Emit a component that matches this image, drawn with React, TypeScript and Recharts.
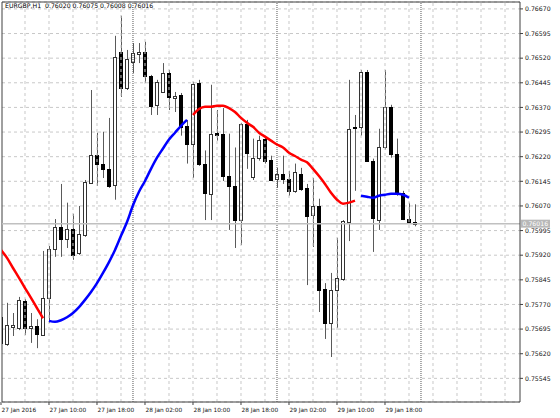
import React from 'react';
import { ComposedChart, Bar, Line, XAxis, YAxis, CartesianGrid, ReferenceLine } from 'recharts';

const SYMBOL = 'EURGBP,H1';
const BID = 0.76016;

const OPEN = [
  0.75731, 0.75650, 0.75701, 0.75698, 0.75781, 0.75698, 0.75704, 0.75677, 0.75790, 0.75939,
  0.76006, 0.75969, 0.76000, 0.75927, 0.75983, 0.76140, 0.76226, 0.76199, 0.76183, 0.76134,
  0.76539, 0.76429, 0.76509, 0.76533, 0.76539, 0.76466, 0.76378, 0.76417, 0.76475, 0.76399,
  0.76408, 0.76314, 0.76260, 0.76445, 0.76199, 0.76107, 0.76293, 0.76290, 0.76161, 0.76131,
  0.76027, 0.76320, 0.76158, 0.76217, 0.76275, 0.76211, 0.76152, 0.76167, 0.76152, 0.76116,
  0.76167, 0.76125, 0.76042, 0.76070, 0.75817, 0.75714, 0.75814, 0.75848, 0.76021, 0.76311,
  0.76311, 0.76478, 0.76208, 0.76027, 0.76248, 0.76372, 0.76229, 0.76110, 0.76030, 0.76020,
];
const HIGH = [
  0.75737, 0.75775, 0.75744, 0.75793, 0.75787, 0.75744, 0.75725, 0.75933, 0.75948, 0.76030,
  0.76137, 0.76080, 0.76046, 0.76070, 0.76149, 0.76423, 0.76293, 0.76296, 0.76338, 0.76588,
  0.76649, 0.76545, 0.76566, 0.76566, 0.76570, 0.76469, 0.76454, 0.76505, 0.76484, 0.76417,
  0.76414, 0.76332, 0.76448, 0.76454, 0.76239, 0.76439, 0.76362, 0.76368, 0.76290, 0.76248,
  0.76323, 0.76332, 0.76275, 0.76284, 0.76281, 0.76223, 0.76186, 0.76223, 0.76177, 0.76199,
  0.76186, 0.76137, 0.76155, 0.76092, 0.75835, 0.75866, 0.75973, 0.76027, 0.76454, 0.76347,
  0.76484, 0.76484, 0.76214, 0.76305, 0.76484, 0.76378, 0.76275, 0.76116, 0.76080, 0.76075,
];
const LOW = [
  0.75647, 0.75644, 0.75674, 0.75692, 0.75677, 0.75653, 0.75637, 0.75674, 0.75714, 0.75915,
  0.75915, 0.75942, 0.75906, 0.75921, 0.75976, 0.76137, 0.76131, 0.76155, 0.76125, 0.76089,
  0.76402, 0.76423, 0.76475, 0.76505, 0.76445, 0.76347, 0.76347, 0.76414, 0.76362, 0.76356,
  0.76284, 0.76199, 0.76155, 0.76192, 0.76027, 0.76027, 0.76269, 0.76146, 0.75997, 0.75942,
  0.75951, 0.76183, 0.76149, 0.76208, 0.76199, 0.76146, 0.76125, 0.76137, 0.76101, 0.76110,
  0.76116, 0.75829, 0.75945, 0.75747, 0.75665, 0.75610, 0.75698, 0.75842, 0.75963, 0.76116,
  0.76284, 0.76205, 0.75930, 0.75997, 0.76242, 0.76217, 0.76101, 0.76027, 0.76018, 0.76008,
];
const CLOSE = [
  0.75653, 0.75707, 0.75707, 0.75784, 0.75698, 0.75704, 0.75680, 0.75790, 0.75939, 0.76006,
  0.75969, 0.76000, 0.75921, 0.75986, 0.76143, 0.76226, 0.76199, 0.76183, 0.76131, 0.76524,
  0.76429, 0.76518, 0.76536, 0.76539, 0.76466, 0.76375, 0.76448, 0.76475, 0.76402, 0.76405,
  0.76311, 0.76260, 0.76442, 0.76199, 0.76110, 0.76290, 0.76287, 0.76161, 0.76131, 0.76027,
  0.76320, 0.76232, 0.76217, 0.76272, 0.76208, 0.76149, 0.76167, 0.76152, 0.76116, 0.76174,
  0.76122, 0.76039, 0.76070, 0.75814, 0.75714, 0.75814, 0.75851, 0.76024, 0.76305, 0.76308,
  0.76478, 0.76208, 0.76033, 0.76248, 0.76372, 0.76229, 0.76107, 0.76030, 0.76021, 0.76016,
];
const MA_FALLING = [
  0.75936, 0.75912, 0.75881, 0.75851, 0.75820, 0.75790, 0.75759, 0.75728, null, null,
  null, null, null, null, null, null, null, null, null, null,
  null, null, null, null, null, null, null, null, null, null,
  null, null, 0.76347, 0.76365, 0.76372, 0.76372, 0.76375, 0.76375, 0.76368, 0.76356,
  0.76338, 0.76323, 0.76311, 0.76293, 0.76281, 0.76269, 0.76257, 0.76248, 0.76232, 0.76222,
  0.76211, 0.76203, 0.76183, 0.76161, 0.76137, 0.76110, 0.76089, 0.76077, 0.76080, 0.76086,
  null, null, null, null, null, null, null, null, null, null,
];
const MA_RISING = [
  null, null, null, null, null, null, null, null, 0.75720, 0.75717,
  0.75722, 0.75731, 0.75744, 0.75762, 0.75784, 0.75808, 0.75835, 0.75866, 0.75899, 0.75936,
  0.75979, 0.76021, 0.76072, 0.76113, 0.76146, 0.76183, 0.76217, 0.76245, 0.76272, 0.76293,
  0.76314, 0.76332, null, null, null, null, null, null, null, null,
  null, null, null, null, null, null, null, null, null, null,
  null, null, null, null, null, null, null, null, null, null,
  0.76101, 0.76098, 0.76095, 0.76101, 0.76104, 0.76107, 0.76107, 0.76104, 0.76095, null,
];

const X_TICKS = [0, 8, 16, 24, 32, 40, 48, 56, 64];
const X_TICK_LABELS = [
  '27 Jan 2016', '27 Jan 10:00', '27 Jan 18:00', '28 Jan 02:00', '28 Jan 10:00',
  '28 Jan 18:00', '29 Jan 02:00', '29 Jan 10:00', '29 Jan 18:00',
];
const Y_TICKS = [
  0.75545, 0.75620, 0.75695, 0.75770, 0.75845, 0.75920, 0.75995, 0.76070,
  0.76145, 0.76220, 0.76295, 0.76370, 0.76445, 0.76520, 0.76595, 0.76670,
];
const GRID_X = [4, 8, 12, 16, 20, 24, 28, 32, 36, 40, 44, 48, 52, 56, 60, 64, 68, 72, 76, 80, 84];
const DAY_SEPARATORS = [22, 46, 70];

const X_DOMAIN = [0.1667, 86.5];
const Y_DOMAIN = [0.75473, 0.76691];

const FONT = 'DejaVu Sans, Verdana, sans-serif';

const data = OPEN.map((o, i) => ({
  i,
  open: o,
  high: HIGH[i],
  low: LOW[i],
  close: CLOSE[i],
  range: [LOW[i], HIGH[i]],
  maFalling: MA_FALLING[i],
  maRising: MA_RISING[i],
}));

function Candle(props: any) {
  const { x, y, width, height, payload } = props;
  if (x == null || y == null || !payload) return null;
  const cx = Math.round(x + width / 2) + 0.5;
  const top = Math.min(y, y + height);
  const h = Math.abs(height);
  const { open, high, low, close } = payload;
  const k = h / (high - low || 1e-9);
  const yOf = (v: number) => top + (high - v) * k;
  const yo = yOf(open);
  const yc = yOf(close);
  const bull = close >= open;
  const bt = Math.round(Math.min(yo, yc)) + 0.5;
  const bb = Math.round(Math.max(yo, yc)) + 0.5;
  return (
    <g>
      <line x1={cx} x2={cx} y1={top} y2={top + h} stroke="#5a5a5a" strokeWidth={1} />
      <rect
        x={cx - 2}
        y={bt}
        width={3}
        height={Math.max(bb - bt, 1)}
        fill={bull ? '#ffffff' : '#000000'}
        stroke={bull ? '#333333' : '#000000'}
        strokeWidth={1}
      />
    </g>
  );
}

function XTick(props: any) {
  const { x, y, payload } = props;
  const idx = X_TICKS.indexOf(payload.value);
  return (
    <text x={x + 0.5} y={y} dy={5} textAnchor="start" fontSize={5.8} fontFamily={FONT} fill="#111">
      {X_TICK_LABELS[idx]}
    </text>
  );
}

function PriceTag(props: any) {
  const vb = props.viewBox;
  if (!vb) return null;
  const x = vb.x + vb.width + 1;
  const y = vb.y;
  return (
    <g>
      <rect x={x} y={y - 4} width={29} height={8} fill="#b8b8b8" />
      <text x={x + 1.5} y={y + 2.3} fontSize={6.2} fontFamily={FONT} fill="#ffffff">
        {BID.toFixed(5)}
      </text>
    </g>
  );
}

export default function App() {
  return (
    <div style={{ position: 'relative', width: 560, height: 418 }}>
      <style>{'body{margin:0;background:#fff}'}</style>
      <ComposedChart
        width={560}
        height={418}
        data={data}
        margin={{ top: 2, right: 0, bottom: 0, left: 2 }}
      >
        <CartesianGrid vertical={false} stroke="#c8c8c8" strokeDasharray="3 3" />
        <XAxis
          dataKey="i"
          type="number"
          domain={X_DOMAIN}
          allowDataOverflow
          ticks={X_TICKS}
          interval={0}
          height={16}
          tickSize={3}
          tickLine={{ stroke: '#404040' }}
          axisLine={{ stroke: '#404040' }}
          tick={<XTick />}
        />
        <YAxis
          orientation="right"
          type="number"
          domain={Y_DOMAIN}
          allowDataOverflow
          ticks={Y_TICKS}
          interval={0}
          width={40}
          tickSize={3}
          tickMargin={2}
          tickLine={{ stroke: '#404040' }}
          axisLine={{ stroke: '#404040' }}
          tick={{ fontSize: 6.2, fontFamily: FONT, fill: '#111' }}
          tickFormatter={(v: number) => v.toFixed(5)}
        />
        {GRID_X.map((g) => (
          <ReferenceLine key={'g' + g} x={g} stroke="#c8c8c8" strokeDasharray="3 3" />
        ))}
        {DAY_SEPARATORS.map((s) => (
          <ReferenceLine key={'s' + s} x={s} stroke="#555555" strokeDasharray="1 1" />
        ))}
        <ReferenceLine y={Y_DOMAIN[1]} stroke="#404040" ifOverflow="visible" />
        <ReferenceLine x={X_DOMAIN[0]} stroke="#404040" ifOverflow="visible" />
        <ReferenceLine y={BID} stroke="#c0c0c0" strokeWidth={1.5} label={<PriceTag />} />
        <Bar dataKey="range" barSize={4} shape={(p: any) => <Candle {...p} />} isAnimationActive={false} />
        <Line
          dataKey="maFalling"
          stroke="#ff0000"
          strokeWidth={2.5}
          dot={false}
          activeDot={false}
          type="monotone"
          connectNulls={false}
          isAnimationActive={false}
        />
        <Line
          dataKey="maRising"
          stroke="#0000ff"
          strokeWidth={2.5}
          dot={false}
          activeDot={false}
          type="monotone"
          connectNulls={false}
          isAnimationActive={false}
        />
      </ComposedChart>
      <div
        style={{
          position: 'absolute',
          left: 5,
          top: 2,
          fontFamily: FONT,
          fontSize: 6.2,
          lineHeight: '8px',
          color: '#000',
          whiteSpace: 'pre',
        }}
      >
        {SYMBOL + '  ' + [OPEN[69], HIGH[69], LOW[69], CLOSE[69]].map((v) => v.toFixed(5)).join(' ')}
      </div>
    </div>
  );
}
